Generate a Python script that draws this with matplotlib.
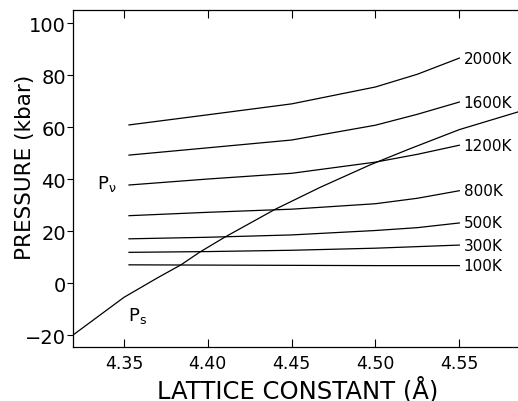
import matplotlib
matplotlib.use("Agg")
import matplotlib.pyplot as plt

plt.rcParams['font.family'] = ['DejaVu Sans']
plt.rcParams['mathtext.default'] = 'regular'

# isotherm lattice constants and pressures (kbar)
lattice = [4.353, 4.40, 4.45, 4.50, 4.525, 4.55]
p_100 = [7.0, 6.9, 6.8, 6.7, 6.7, 6.7]
p_300 = [11.8, 12.1, 12.6, 13.4, 14.0, 14.6]
p_500 = [17.0, 17.6, 18.5, 20.2, 21.3, 23.1]
p_800 = [25.9, 27.2, 28.4, 30.5, 32.6, 35.5]
p_1200 = [37.7, 40.0, 42.2, 46.5, 49.5, 53.0]
p_1600 = [49.2, 52.0, 55.0, 60.7, 64.9, 69.6]
p_2000 = [60.8, 64.7, 68.9, 75.4, 80.3, 86.5]
temps = ["100K", "300K", "500K", "800K", "1200K", "1600K", "2000K"]
isotherms = [p_100, p_300, p_500, p_800, p_1200, p_1600, p_2000]

# static pressure curve
lattice_s = [4.3196, 4.35, 4.37, 4.384, 4.395, 4.41, 4.44, 4.467, 4.497, 4.52, 4.55, 4.585]
p_s = [-20, -5.5, 2.0, 7.0, 11.8, 17.6, 28.3, 36.8, 45.5, 51.5, 59.0, 65.8]

fig = plt.figure(figsize=(5.18, 4.02), dpi=100)
ax = fig.add_axes([73/518, 1 - 348/402, 445/518, 337/402])

for p, t in zip(isotherms, temps):
    ax.plot(lattice, p, color='black', lw=0.9)
    ax.text(lattice[-1] + 0.0025, p[-1], t, fontsize=11, va='center', ha='left')

ax.plot(lattice_s, p_s, color='black', lw=0.9)

ax.text(4.3339, 38.5, r"P$_\nu$", fontsize=13, va='center', ha='left')
ax.text(4.3524, -12.3, r"P$_s$", fontsize=13, va='center', ha='left')

ax.set_xlim(4.3196, 4.585)
ax.set_ylim(-24.6, 105)
ax.set_xticks([4.35, 4.40, 4.45, 4.50, 4.55])
ax.set_xticklabels(["4.35", "4.40", "4.45", "4.50", "4.55"])
ax.set_yticks([-20, 0, 20, 40, 60, 80, 100])

ax.tick_params(axis='x', direction='in', length=6, width=0.8, top=True, labelsize=12.5, pad=5)
ax.tick_params(axis='y', direction='out', length=4, width=0.8, labelsize=14, pad=1)

for s in ax.spines.values():
    s.set_linewidth(0.9)
ax.spines['right'].set_visible(False)

ax.set_xlabel("LATTICE CONSTANT (Å)", fontsize=17.5, va='center', ha='center')
ax.xaxis.set_label_coords(0.506, -0.125)
ax.set_ylabel("PRESSURE (kbar)", fontsize=15.5, va='center', ha='center')
ax.yaxis.set_label_coords(-0.108, 0.537)

fig.savefig("out.png", dpi=100)
